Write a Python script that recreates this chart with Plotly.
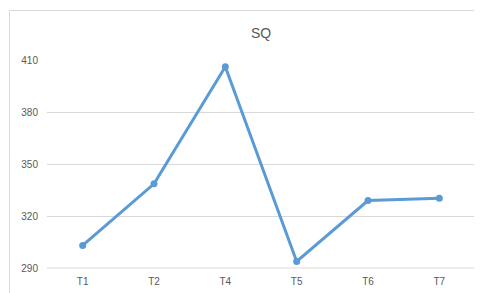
import plotly.graph_objects as go

categories = ["T1", "T2", "T4", "T5", "T6", "T7"]
sq_values = [303.0, 338.6, 406.1, 293.8, 328.9, 330.3]
y_ticks = [290, 320, 350, 380, 410]

# page body has an 8px margin, so the figure is placed at (8, 8)
OFF = 8
W, H = 482 - OFF, 293 - OFF
ML, MR, MT, MB = 47 - OFF, 7, 60 - OFF, 25
pw = W - ML - MR
ph = H - MT - MB

def px_to_paper_x(px):
    return (px - OFF - ML) / pw

def px_to_paper_y(py):
    return (H - MB - (py - OFF)) / ph

fig = go.Figure()
fig.add_trace(go.Scatter(
    x=categories, y=sq_values, mode="lines+markers",
    line=dict(color="#5B9BD5", width=3),
    marker=dict(color="#5B9BD5", size=7),
    showlegend=False, hoverinfo="skip",
))

fig.update_layout(
    width=W, height=H,
    margin=dict(l=ML, r=MR, t=MT, b=MB),
    paper_bgcolor="white", plot_bgcolor="white",
    font=dict(family="Liberation Sans, Arial, sans-serif", color="#595959", size=10),
    title=dict(text="SQ", x=0.5, xref="paper", xanchor="center",
               y=1 - (33 - OFF) / H, yanchor="middle",
               font=dict(size=14, color="#595959")),
    xaxis=dict(type="category", showgrid=False, showline=False, zeroline=False,
               ticks="", ticklabelstandoff=6,
               tickfont=dict(size=10, color="#595959"),
               range=[-0.5, len(categories) - 0.5]),
    yaxis=dict(range=[290, 410], tickvals=y_ticks, showgrid=True,
               gridcolor="#D9D9D9", gridwidth=1, zeroline=False,
               showline=False, ticks="", ticklabelstandoff=8,
               tickfont=dict(size=10, color="#595959")),
    shapes=[
        dict(type="line", xref="paper", yref="paper",
             x0=0, x1=1, y0=0, y1=0,
             line=dict(color="#D9D9D9", width=1), layer="below"),
        dict(type="rect", xref="paper", yref="paper",
             x0=px_to_paper_x(9.5), x1=px_to_paper_x(482 + 5),
             y0=px_to_paper_y(293 + 5), y1=px_to_paper_y(10.5),
             line=dict(color="#D9D9D9", width=1), fillcolor="rgba(0,0,0,0)"),
    ],
)

fig.write_html("out.html")
